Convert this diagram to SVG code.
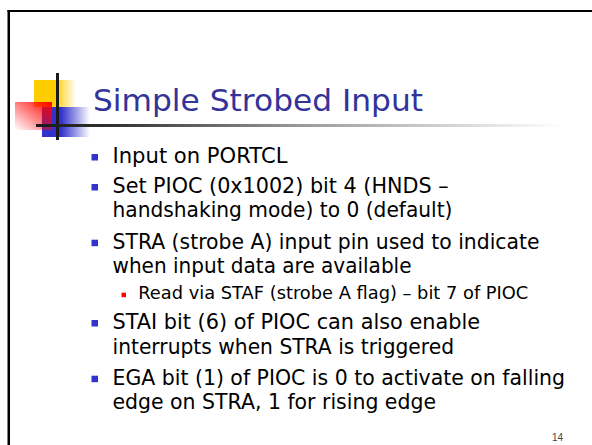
<svg xmlns="http://www.w3.org/2000/svg" width="592" height="445" viewBox="0 0 592 445">
  <defs>
    <linearGradient id="gYellow" x1="0" y1="0" x2="1" y2="0">
      <stop offset="0" stop-color="#FFCC00"/>
      <stop offset="0.5" stop-color="#FFCC00"/>
      <stop offset="1" stop-color="#FFCC00" stop-opacity="0"/>
    </linearGradient>
    <linearGradient id="gBlue" x1="0" y1="0" x2="1" y2="0">
      <stop offset="0" stop-color="#3333CC"/>
      <stop offset="0.4" stop-color="#3333CC"/>
      <stop offset="1" stop-color="#3333CC" stop-opacity="0"/>
    </linearGradient>
    <linearGradient id="gRed" x1="1" y1="0" x2="0" y2="1">
      <stop offset="0" stop-color="#FF0000"/>
      <stop offset="1" stop-color="#FF0000" stop-opacity="0"/>
    </linearGradient>
    <linearGradient id="gLine" gradientUnits="userSpaceOnUse" x1="36" y1="0" x2="562" y2="0">
      <stop offset="0" stop-color="#1a1a1a"/>
      <stop offset="0.15" stop-color="#333333"/>
      <stop offset="0.5" stop-color="#999999"/>
      <stop offset="1" stop-color="#ffffff"/>
    </linearGradient>
  </defs>
  <style>
    .body { font-family: "DejaVu Sans", "Liberation Sans", sans-serif; font-size: 21px; fill: #000000; }
    .sub { font-family: "DejaVu Sans", "Liberation Sans", sans-serif; font-size: 17px; fill: #000000; }
    .title { font-family: "DejaVu Sans", "Liberation Sans", sans-serif; font-size: 31px; fill: #333399; }
    .bullet { fill: #3333CC; }
    .subbullet { fill: #FF0000; }
    .num { font-family: "Liberation Sans", "DejaVu Sans", sans-serif; font-size: 10px; fill: #444444; }
  </style>
  <rect width="592" height="445" fill="#ffffff"/>
  <g id="frame">
    <rect x="7.5" y="10" width="2.5" height="435" fill="#000000"/>
    <rect x="7.5" y="10" width="584.5" height="2" fill="#000000"/>
  </g>
  <g id="logo">
    <rect x="34" y="80" width="42" height="27" fill="url(#gYellow)"/>
    <rect x="42" y="107" width="48" height="30" fill="url(#gBlue)"/>
    <rect x="15" y="102" width="37" height="28" fill="url(#gRed)"/>
    <rect x="56" y="73" width="3" height="67" fill="#1a1a1a"/>
    <rect x="36" y="124" width="526" height="3" fill="url(#gLine)"/>
  </g>
  <g id="title">
    <text class="title" x="93" y="111" textLength="330" lengthAdjust="spacingAndGlyphs">Simple Strobed Input</text>
  </g>
  <g id="bullets">
    <rect class="bullet" x="91.5" y="154" width="6.5" height="6.5"/>
    <text class="body" x="112.5" y="163.3" textLength="175" lengthAdjust="spacingAndGlyphs">Input on PORTCL</text>

    <rect class="bullet" x="91.5" y="184" width="6.5" height="6.5"/>
    <text class="body" x="112.5" y="193.3" textLength="336" lengthAdjust="spacingAndGlyphs">Set PIOC (0x1002) bit 4 (HNDS –</text>
    <text class="body" x="112.5" y="217.3" textLength="340" lengthAdjust="spacingAndGlyphs">handshaking mode) to 0 (default)</text>

    <rect class="bullet" x="91.5" y="239.7" width="6.5" height="6.5"/>
    <text class="body" x="112.5" y="249" textLength="427" lengthAdjust="spacingAndGlyphs">STRA (strobe A) input pin used to indicate</text>
    <text class="body" x="112.5" y="273.3" textLength="299" lengthAdjust="spacingAndGlyphs">when input data are available</text>

    <rect class="subbullet" x="121.5" y="292.7" width="4.5" height="4.5"/>
    <text class="sub" x="138.3" y="299" textLength="390" lengthAdjust="spacingAndGlyphs">Read via STAF (strobe A flag) – bit 7 of PIOC</text>

    <rect class="bullet" x="91.5" y="320" width="6.5" height="6.5"/>
    <text class="body" x="112.5" y="329.3" textLength="367.5" lengthAdjust="spacingAndGlyphs">STAI bit (6) of PIOC can also enable</text>
    <text class="body" x="112.5" y="354" textLength="341.5" lengthAdjust="spacingAndGlyphs">interrupts when STRA is triggered</text>

    <rect class="bullet" x="91.5" y="375.7" width="6.5" height="6.5"/>
    <text class="body" x="112.5" y="385" textLength="452.5" lengthAdjust="spacingAndGlyphs">EGA bit (1) of PIOC is 0 to activate on falling</text>
    <text class="body" x="112.5" y="409.3" textLength="323.5" lengthAdjust="spacingAndGlyphs">edge on STRA, 1 for rising edge</text>
  </g>
  <g id="page-number">
    <text class="num" x="552" y="441">14</text>
  </g>
</svg>
